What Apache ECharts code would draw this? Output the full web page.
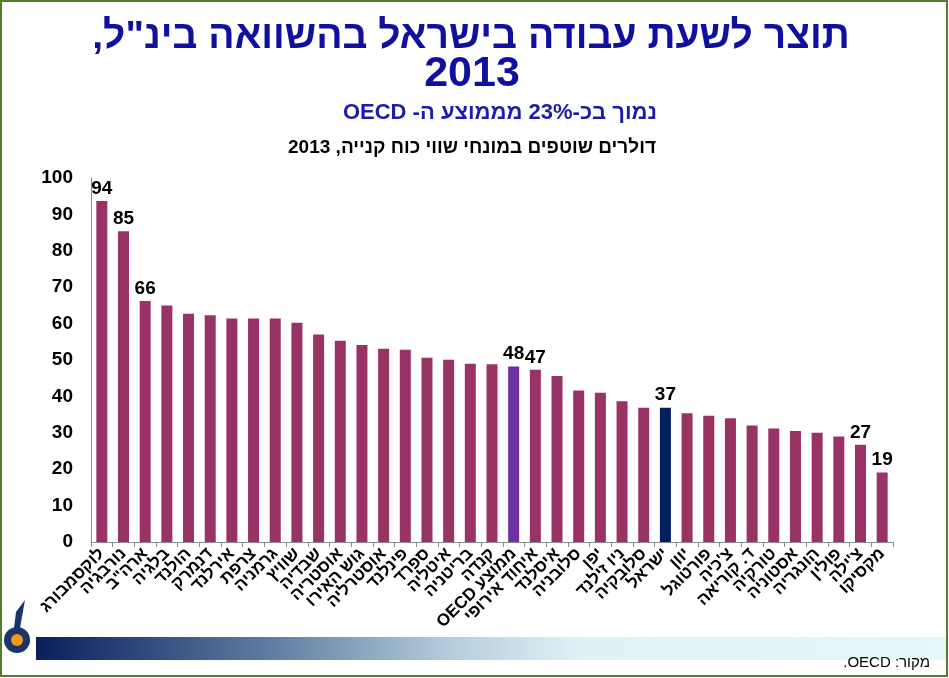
<!DOCTYPE html>
<html dir="rtl">
<head>
<meta charset="utf-8">
<script src="https://cdn.jsdelivr.net/npm/echarts@6/dist/echarts.min.js"></script>
<style>
  html, body { margin: 0; padding: 0; background: #fff; }
  #chart { width: 949px; height: 678px; }
</style>
</head>
<body>
<div id="chart"></div>
<script>
// מדינות, משמאל לימין
const countries = ['לוקסמבורג', 'נורבגיה', 'ארה"ב', 'בלגיה', 'הולנד', 'דנמרק', 'אירלנד', 'צרפת', 'גרמניה', 'שוויץ',
  'שבדיה', 'אוסטריה', 'גוש האירו', 'אוסטרליה', 'פינלנד', 'ספרד', 'איטליה', 'בריטניה', 'קנדה', 'ממוצע OECD',
  'איחוד אירופי', 'איסלנד', 'סלובניה', 'יפן', 'ניו זילנד', 'סלובקיה', 'ישראל', 'יוון', 'פורטוגל', 'צ\'כיה',
  'ד. קוריאה', 'טורקיה', 'אסטוניה', 'הונגריה', 'פולין', 'צ\'ילה', 'מקסיקו'];
// תוצר לשעת עבודה, דולרים
const productivity = [93.7, 85.4, 66.2, 65.0, 62.7, 62.3, 61.4, 61.4, 61.4, 60.2,
  57.0, 55.3, 54.1, 53.1, 52.8, 50.6, 50.1, 49.0, 48.8, 48.2,
  47.3, 45.6, 41.6, 41.0, 38.7, 36.9, 36.9, 35.4, 34.7, 34.0,
  32.0, 31.2, 30.5, 30.0, 29.0, 26.7, 19.1];
// עמודות עם תווית ערך
const labeled = ['לוקסמבורג', 'נורבגיה', 'ארה"ב', 'ממוצע OECD', 'איחוד אירופי', 'ישראל', 'צ\'ילה', 'מקסיקו'];
const yTicks = { min: 0, max: 100, interval: 10 };

const barColor = '#993366';
const specialColors = { 'ממוצע OECD': '#7030a0', 'ישראל': '#002060' };
const font = '"Liberation Sans", Arial, "DejaVu Sans", sans-serif';

const chart = echarts.init(document.getElementById('chart'), null, { renderer: 'canvas' });

const data = productivity.map((v, i) => {
  const name = countries[i];
  return {
    value: v,
    itemStyle: { color: specialColors[name] || barColor },
    label: { show: labeled.includes(name) }
  };
});

const option = {
  animation: false,
  textStyle: { fontFamily: font },
  grid: { left: 91, right: 56, top: 178, bottom: 136, containLabel: false },
  xAxis: {
    type: 'category',
    data: countries,
    axisLine: { lineStyle: { color: '#8c8c8c', width: 1 } },
    axisTick: { show: true, length: 5, lineStyle: { color: '#8c8c8c' } },
    axisLabel: {
      interval: 0, rotate: 45, margin: 9,
      color: '#000', fontWeight: 'bold', fontSize: 17, fontFamily: font
    }
  },
  yAxis: {
    type: 'value',
    min: yTicks.min, max: yTicks.max, interval: yTicks.interval,
    splitLine: { show: false },
    axisTick: { show: false },
    axisLine: { show: true, lineStyle: { color: '#8c8c8c', width: 1 } },
    axisLabel: { color: '#000', fontWeight: 'bold', fontSize: 19, margin: 18, fontFamily: font }
  },
  series: [{
    type: 'bar',
    data: data,
    barWidth: 11,
    label: {
      position: 'top', distance: 3,
      color: '#000', fontWeight: 'bold', fontSize: 19, fontFamily: font,
      formatter: p => Math.round(p.value)
    }
  }],
  graphic: [
    // מסגרת ירוקה
    { type: 'rect', shape: { x: 1, y: 1, width: 946, height: 675 },
      style: { fill: 'none', stroke: '#4f7f2a', lineWidth: 2 }, z: 10 },
    // כותרות
    { type: 'text', x: 471, y: 37,
      style: { text: 'תוצר לשעת עבודה בישראל בהשוואה בינ"ל,', fill: '#10109e', align: 'center', verticalAlign: 'middle',
        font: 'bold 39px ' + font } },
    { type: 'text', x: 472, y: 74,
      style: { text: '2013', fill: '#10109e', align: 'center', verticalAlign: 'middle', font: 'bold 43px ' + font } },
    { type: 'text', x: 500, y: 113,
      style: { text: 'נמוך בכ-23% מממוצע ה- OECD', fill: '#1c1ca8', align: 'center', verticalAlign: 'middle',
        font: 'bold 22px ' + font } },
    { type: 'text', x: 472, y: 148,
      style: { text: 'דולרים שוטפים במונחי שווי כוח קנייה, 2013', fill: '#000', align: 'center', verticalAlign: 'middle',
        font: 'bold 19px ' + font } },
    // פס מעבר צבע תחתון
    { type: 'rect', shape: { x: 36, y: 637, width: 911, height: 23 },
      style: { fill: new echarts.graphic.LinearGradient(0, 0, 1, 0, [
        { offset: 0, color: '#0a1f5c' },
        { offset: 0.25, color: '#5b7aa0' },
        { offset: 0.45, color: '#b3cbdb' },
        { offset: 0.6, color: '#dff2f6' },
        { offset: 1, color: '#e6f6f9' }
      ]) } },
    // מקור
    { type: 'text', x: 930, y: 663,
      style: { text: 'מקור: OECD.', fill: '#000', align: 'right', verticalAlign: 'middle',
        font: '15px ' + font } },
    // לוגו (קירוב)
    { type: 'circle', shape: { cx: 17, cy: 640, r: 13 }, style: { fill: '#1a3566' } },
    { type: 'circle', shape: { cx: 17, cy: 640, r: 6 }, style: { fill: '#f39a1e' } },
    { type: 'polygon', shape: { points: [[14, 628], [20, 628], [25, 600], [16, 612]] }, style: { fill: '#1a3566' } }
  ]
};

chart.setOption(option);
</script>
</body>
</html>
